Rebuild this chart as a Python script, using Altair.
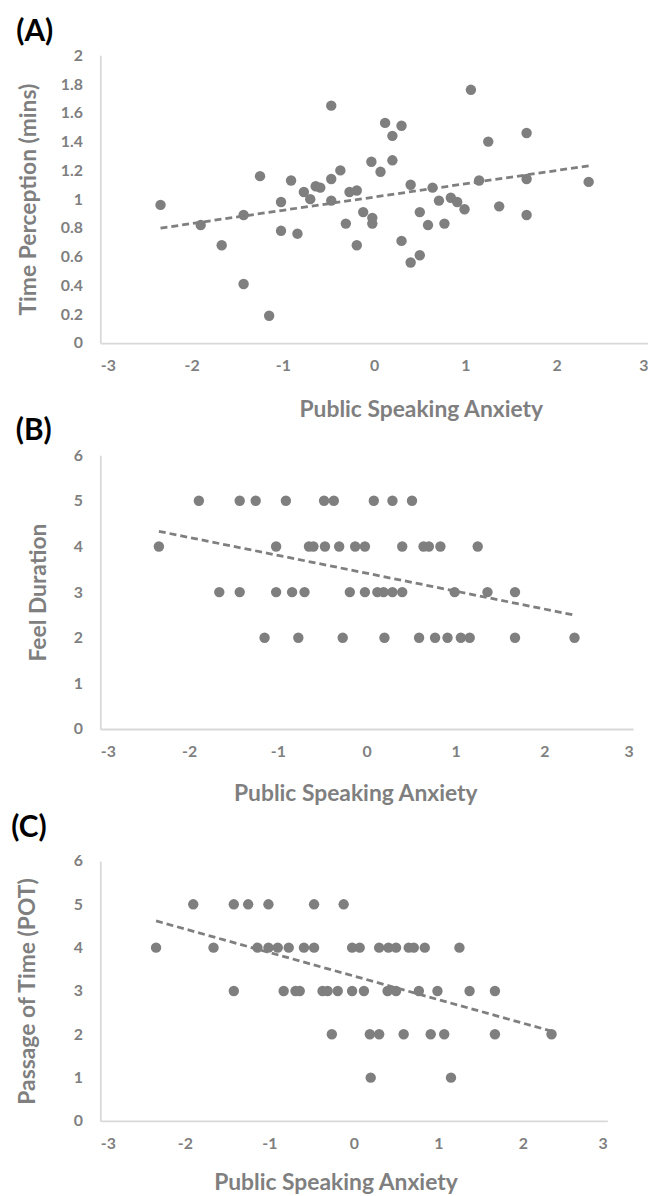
import altair as alt
import pandas as pd

# ---------------- data ----------------
A_x = [-2.34, -1.90, -1.67, -1.43, -1.43, -1.25, -1.15, -1.02, -1.02, -0.91,
       -0.84, -0.77, -0.70, -0.64, -0.59, -0.47, -0.47, -0.47, -0.37, -0.31,
       -0.27, -0.19, -0.19, -0.12, -0.03, -0.02, -0.02, 0.07, 0.12, 0.20,
       0.20, 0.30, 0.30, 0.40, 0.40, 0.50, 0.50, 0.59, 0.64, 0.71,
       0.77, 0.84, 0.91, 0.99, 1.06, 1.15, 1.25, 1.37, 1.67, 1.67,
       1.67, 2.35]
A_y = [0.96, 0.82, 0.68, 0.89, 0.41, 1.16, 0.19, 0.98, 0.78, 1.13,
       0.76, 1.05, 1.00, 1.09, 1.08, 1.65, 1.14, 0.99, 1.20, 0.83,
       1.05, 1.06, 0.68, 0.91, 1.26, 0.87, 0.83, 1.19, 1.53, 1.44,
       1.27, 1.51, 0.71, 1.10, 0.56, 0.91, 0.61, 0.82, 1.08, 0.99,
       0.83, 1.01, 0.98, 0.93, 1.76, 1.13, 1.40, 0.95, 1.46, 1.14,
       0.89, 1.12]

B_x = [-1.89, -1.43, -1.25, -0.91, -0.48, -0.37, 0.08, 0.29, 0.51,
       -2.34, -1.02, -0.65, -0.60, -0.47, -0.31, -0.13, -0.02, 0.40, 0.64, 0.70, 0.83, 1.25,
       -1.66, -1.43, -1.02, -0.84, -0.70, -0.19, -0.02, 0.12, 0.19, 0.29, 0.40, 0.99, 1.36, 1.67,
       -1.15, -0.77, -0.27, 0.20, 0.59, 0.77, 0.91, 1.06, 1.16, 1.67, 2.34]
B_y = [5, 5, 5, 5, 5, 5, 5, 5, 5,
       4, 4, 4, 4, 4, 4, 4, 4, 4, 4, 4, 4, 4,
       3, 3, 3, 3, 3, 3, 3, 3, 3, 3, 3, 3, 3, 3,
       2, 2, 2, 2, 2, 2, 2, 2, 2, 2, 2]

C_x = [-1.90, -1.42, -1.25, -1.01, -0.47, -0.12,
       -2.34, -1.66, -1.14, -1.01, -0.90, -0.77, -0.59, -0.47, -0.02, 0.07, 0.30, 0.41, 0.50, 0.65, 0.71, 0.84, 1.25,
       -1.42, -0.83, -0.69, -0.64, -0.37, -0.31, -0.19, -0.02, 0.12, 0.40, 0.50, 0.77, 0.99, 1.37, 1.67,
       -0.26, 0.19, 0.30, 0.59, 0.91, 1.07, 1.67, 2.34,
       0.20, 1.15]
C_y = [5, 5, 5, 5, 5, 5,
       4, 4, 4, 4, 4, 4, 4, 4, 4, 4, 4, 4, 4, 4, 4, 4, 4,
       3, 3, 3, 3, 3, 3, 3, 3, 3, 3, 3, 3, 3, 3, 3,
       2, 2, 2, 2, 2, 2, 2, 2,
       1, 1]

X_TICKS = [-3, -2, -1, 0, 1, 2, 3]
A_TICKS = [0, 0.2, 0.4, 0.6, 0.8, 1, 1.2, 1.4, 1.6, 1.8, 2]
BC_TICKS = [0, 1, 2, 3, 4, 5, 6]

X_TITLE = "Public Speaking Anxiety"

GREY = "#7f7f7f"
AXIS_GREY = "#d9d9d9"
FONT = "Lato"
LABEL_EXPR = "'' + datum.value"


def panel(xs, ys, ytitle, yticks, ydom, W, H, L, T, Bot,
          ytitle_x, xtitle_x, xtitle_y, label=None, label_pos=None):
    df = pd.DataFrame({"x": xs, "y": ys})
    xax = alt.Axis(values=X_TICKS, labelExpr=LABEL_EXPR, title=X_TITLE,
                   labelOverlap=False, tickCount=len(X_TICKS),
                   titleX=xtitle_x, titleY=xtitle_y, titleAlign="center",
                   titleBaseline="middle", titleAnchor="middle")
    yax = alt.Axis(values=yticks, labelExpr=LABEL_EXPR, title=ytitle,
                   labelOverlap=False, tickCount=len(yticks),
                   titleX=ytitle_x, titleY=H / 2, titleAngle=270,
                   titleAlign="center", titleBaseline="middle")
    xs_ = alt.Scale(domain=[-3, 3], nice=False, zero=False)
    ys_ = alt.Scale(domain=ydom, nice=False, zero=False)
    base = alt.Chart(df)
    pts = base.mark_circle(size=110, color=GREY, opacity=1).encode(
        x=alt.X("x:Q", scale=xs_, axis=xax),
        y=alt.Y("y:Q", scale=ys_, axis=yax),
    )
    trend = base.transform_regression("x", "y").mark_line(
        color=GREY, strokeWidth=2.8, strokeDash=[7, 4]
    ).encode(x=alt.X("x:Q", scale=xs_, axis=xax),
             y=alt.Y("y:Q", scale=ys_, axis=yax))
    # invisible frame fixing the cell bounds
    frame = alt.Chart(pd.DataFrame({"k": [0]})).mark_rule(
        strokeOpacity=0, opacity=0
    ).encode(x=alt.value(-L), x2=alt.value(0), y=alt.value(-T), y2=alt.value(H + Bot))
    layers = [frame, pts, trend]
    if label is not None:
        for txt, (lx, ly) in zip(label, label_pos):
            layers.append(
                alt.Chart(pd.DataFrame({"t": [txt]})).mark_text(
                    font=FONT, fontSize=30, fontWeight="bold", color="black",
                    align="center", baseline="middle"
                ).encode(text="t:N", x=alt.value(lx), y=alt.value(ly))
            )
    return alt.layer(*layers).properties(width=W, height=H)


pA = panel(A_x, A_y, "Time Perception (mins)", A_TICKS, [0, 2],
           W=552, H=290, L=89, T=43, Bot=102,
           ytitle_x=-72, xtitle_x=323, xtitle_y=67,
           label=["(A)", "(B)"], label_pos=[(-66, -23), (-67, 379)])
pB = panel(B_x, B_y, "Feel Duration", BC_TICKS, [0, 6],
           W=537, H=276, L=93, T=9, Bot=113,
           ytitle_x=-62, xtitle_x=257, xtitle_y=65,
           label=["(C)"], label_pos=[(-72, 376)])
pC = panel(C_x, C_y, "Passage of Time (POT)", BC_TICKS, [0, 6],
           W=511, H=262, L=92, T=18, Bot=0,
           ytitle_x=-73, xtitle_x=237, xtitle_y=62)

chart = alt.vconcat(pA, pB, pC, spacing=0).properties(
    padding=0
).configure_view(stroke=None).configure_axis(
    grid=False, ticks=False, tickSize=0, labelOverlap=False,
    domainColor=AXIS_GREY, domainWidth=1.8,
    labelFont=FONT, labelFontSize=16, labelFontWeight="bold", labelColor=GREY,
    titleFont=FONT, titleFontSize=23, titleFontWeight="bold", titleColor=GREY,
).configure_axisX(
    labelPadding=23, labelBaseline="middle"
).configure_axisY(
    labelPadding=18
).configure_concat(spacing=0)

chart.save("out.html", embed_options={"renderer": "svg", "actions": False})
